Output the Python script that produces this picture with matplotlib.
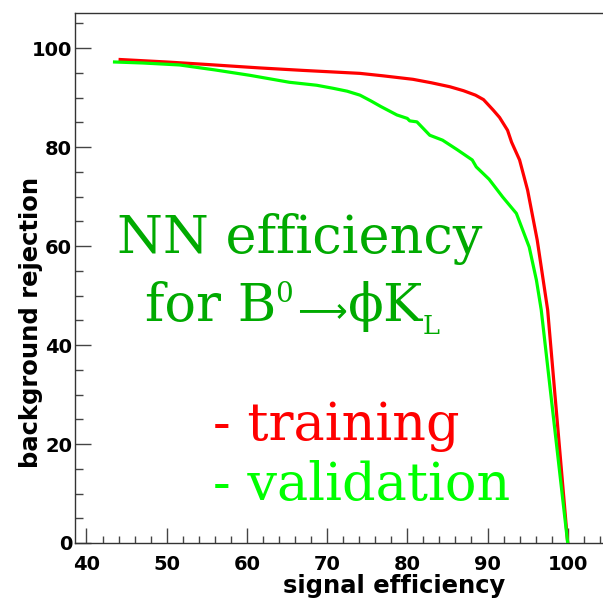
import matplotlib
matplotlib.use("Agg")
import matplotlib.pyplot as plt
from matplotlib.ticker import MultipleLocator

# ROC curves of the NN selection: signal efficiency vs background rejection (%)
train_eff = [44.2, 50.0, 55.0, 61.6, 67.0, 74.1, 77.0, 80.7, 83.0, 85.3, 87.0,
             88.5, 89.5, 90.7, 91.5, 92.5, 93.0, 94.0, 95.0, 96.2, 97.5, 100.0]
train_rej = [97.7, 97.2, 96.7, 96.0, 95.5, 94.9, 94.4, 93.7, 93.0, 92.2, 91.4,
             90.5, 89.6, 87.5, 86.0, 83.4, 81.0, 77.4, 71.3, 61.2, 47.1, 0.0]

valid_eff = [43.5, 47.0, 51.6, 56.0, 60.4, 65.3, 68.7, 70.7, 72.5, 74.1, 75.5,
             76.7, 78.7, 80.0, 80.3, 81.2, 82.8, 84.4, 86.2, 88.1, 88.6, 90.2,
             91.9, 93.6, 94.4, 95.2, 96.1, 96.7, 100.0]
valid_rej = [97.2, 97.0, 96.6, 95.6, 94.5, 93.1, 92.5, 91.9, 91.3, 90.5, 89.3,
             88.2, 86.5, 85.8, 85.3, 85.1, 82.4, 81.4, 79.5, 77.4, 76.0, 73.5,
             69.9, 66.6, 63.2, 59.8, 53.1, 47.1, 0.0]

W, H = 603, 601
plt.rcParams['mathtext.fontset'] = 'dejavuserif'
fig = plt.figure(figsize=(W / 100, H / 100), dpi=100)
ax = fig.add_axes([75 / W, 1 - 543 / H, 1 - 75 / W, (543 - 12.5) / H])

ax.plot(train_eff, train_rej, color='#ff0000', lw=2.3, zorder=3)
ax.plot(valid_eff, valid_rej, color='#00ff00', lw=2.3, zorder=4)

ax.set_xlim(38.57, 104.4)
ax.set_ylim(0, 107.2)
ax.xaxis.set_major_locator(MultipleLocator(10))
ax.xaxis.set_minor_locator(MultipleLocator(2))
ax.yaxis.set_major_locator(MultipleLocator(20))
ax.yaxis.set_minor_locator(MultipleLocator(5))
ax.tick_params(which='both', direction='in', top=False, right=False, color='#444444', width=1)
ax.tick_params(axis='y', which='major', length=11.5, pad=2)
ax.tick_params(axis='y', which='minor', length=5.8)
ax.tick_params(axis='x', which='major', length=11, pad=9)
ax.tick_params(axis='x', which='minor', length=5)
for lab in ax.get_xticklabels() + ax.get_yticklabels():
    lab.set_fontfamily('DejaVu Sans')
    lab.set_fontweight('bold')
    lab.set_fontsize(14)
ax.spines['right'].set_visible(False)
for s in ('left', 'bottom', 'top'):
    ax.spines[s].set_color('#333333')
    ax.spines[s].set_linewidth(1)

fig.text(31 / W, 1 - 322 / H, 'background rejection', rotation=90, ha='center', va='center',
         family='DejaVu Sans', weight='bold', size=17.5)
fig.text(505 / W, 1 - 593 / H, 'signal efficiency', ha='right', va='baseline',
         family='DejaVu Sans', weight='bold', size=17.5)


def label(px, py, s, color, size=37.8, family='DejaVu Serif'):
    fig.text(px / W, 1 - py / H, s, color=color, family=family,
             size=size, ha='left', va='baseline')


dark_green = '#00aa00'
label(117, 253, 'NN efficiency', dark_green)
# second line built piece by piece: for B^0 -> phi K_L
label(145, 321, 'for B', dark_green)
label(275, 302, '0', dark_green, size=20)
label(297, 321, '\u27f6', dark_green, size=25, family='DejaVu Sans')
label(347, 321, '\u03d5K$_{_\\mathrm{L}}$', dark_green)
label(213, 440, '- training', '#ff0000')
label(213, 500, '- validation', '#00ff00')

fig.savefig('out.png', dpi=100)
